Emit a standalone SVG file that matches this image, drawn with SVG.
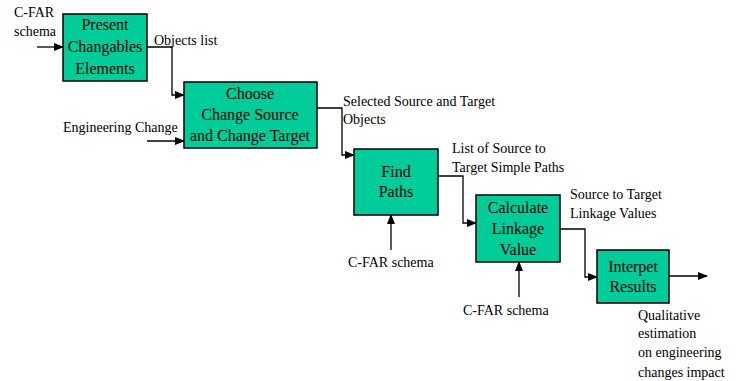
<svg xmlns="http://www.w3.org/2000/svg" width="738" height="381" viewBox="0 0 738 381">
<defs>
<marker id="ah" markerWidth="10" markerHeight="8" refX="9" refY="4" orient="auto" markerUnits="userSpaceOnUse">
<path d="M0,0 L10,4 L0,8 Z" fill="#000"/>
</marker>
<style>
.box{fill:#00CC99;stroke:#000;stroke-width:1.5}
.bt{font-size:16px;fill:#000;text-anchor:middle}
.lb{font-size:14px;fill:#000}
.cn{fill:none;stroke:#000;stroke-width:1.3;marker-end:url(#ah)}
</style>
</defs>
<rect width="738" height="381" fill="#fff"/>
<g id="connectors">
<path class="cn" d="M37,47 H63"/>
<path class="cn" d="M147,47 H172 V95 H184"/>
<path class="cn" d="M147,141 H184"/>
<path class="cn" d="M317,108 H342 V155 H354"/>
<path class="cn" d="M438,176 H463 V223 H476"/>
<path class="cn" d="M391,250 V215"/>
<path class="cn" d="M560,229 H585 V277 H597"/>
<path class="cn" d="M519,297 V262"/>
<path class="cn" d="M669,276 H707"/>
</g>
<g font-family="Times New Roman, Liberation Serif, Tinos, serif">
<g id="n1">
<rect class="box" x="63" y="14" width="84" height="67"/>
<text class="bt" x="105" y="30">Present</text>
<text class="bt" x="105" y="52">Changables</text>
<text class="bt" x="105" y="74">Elements</text>
</g>
<g id="n2">
<rect class="box" x="184" y="82" width="133" height="66"/>
<text class="bt" x="250" y="99">Choose</text>
<text class="bt" x="250" y="120">Change Source</text>
<text class="bt" x="250" y="141">and Change Target</text>
</g>
<g id="n3">
<rect class="box" x="354" y="149" width="84" height="66"/>
<text class="bt" x="396" y="177">Find</text>
<text class="bt" x="396" y="197">Paths</text>
</g>
<g id="n4">
<rect class="box" x="476" y="195" width="84" height="67"/>
<text class="bt" x="518" y="213">Calculate</text>
<text class="bt" x="518" y="234">Linkage</text>
<text class="bt" x="518" y="255">Value</text>
</g>
<g id="n5">
<rect class="box" x="597" y="250" width="72" height="53"/>
<text class="bt" x="633" y="272">Interpet</text>
<text class="bt" x="633" y="292">Results</text>
</g>
<g id="labels">
<text class="lb" x="14" y="17">C-FAR</text>
<text class="lb" x="14" y="36">schema</text>
<text class="lb" x="154" y="45">Objects list</text>
<text class="lb" x="63" y="132">Engineering Change</text>
<text class="lb" x="343" y="106">Selected Source and Target</text>
<text class="lb" x="343" y="124">Objects</text>
<text class="lb" x="452" y="153">List of Source to</text>
<text class="lb" x="452" y="172">Target Simple Paths</text>
<text class="lb" x="348" y="267">C-FAR schema</text>
<text class="lb" x="570" y="199">Source to Target</text>
<text class="lb" x="570" y="218">Linkage Values</text>
<text class="lb" x="463" y="315">C-FAR schema</text>
<text class="lb" x="638" y="320">Qualitative</text>
<text class="lb" x="638" y="338">estimation</text>
<text class="lb" x="638" y="357">on engineering</text>
<text class="lb" x="638" y="377">changes impact</text>
</g>
</g>
</svg>
